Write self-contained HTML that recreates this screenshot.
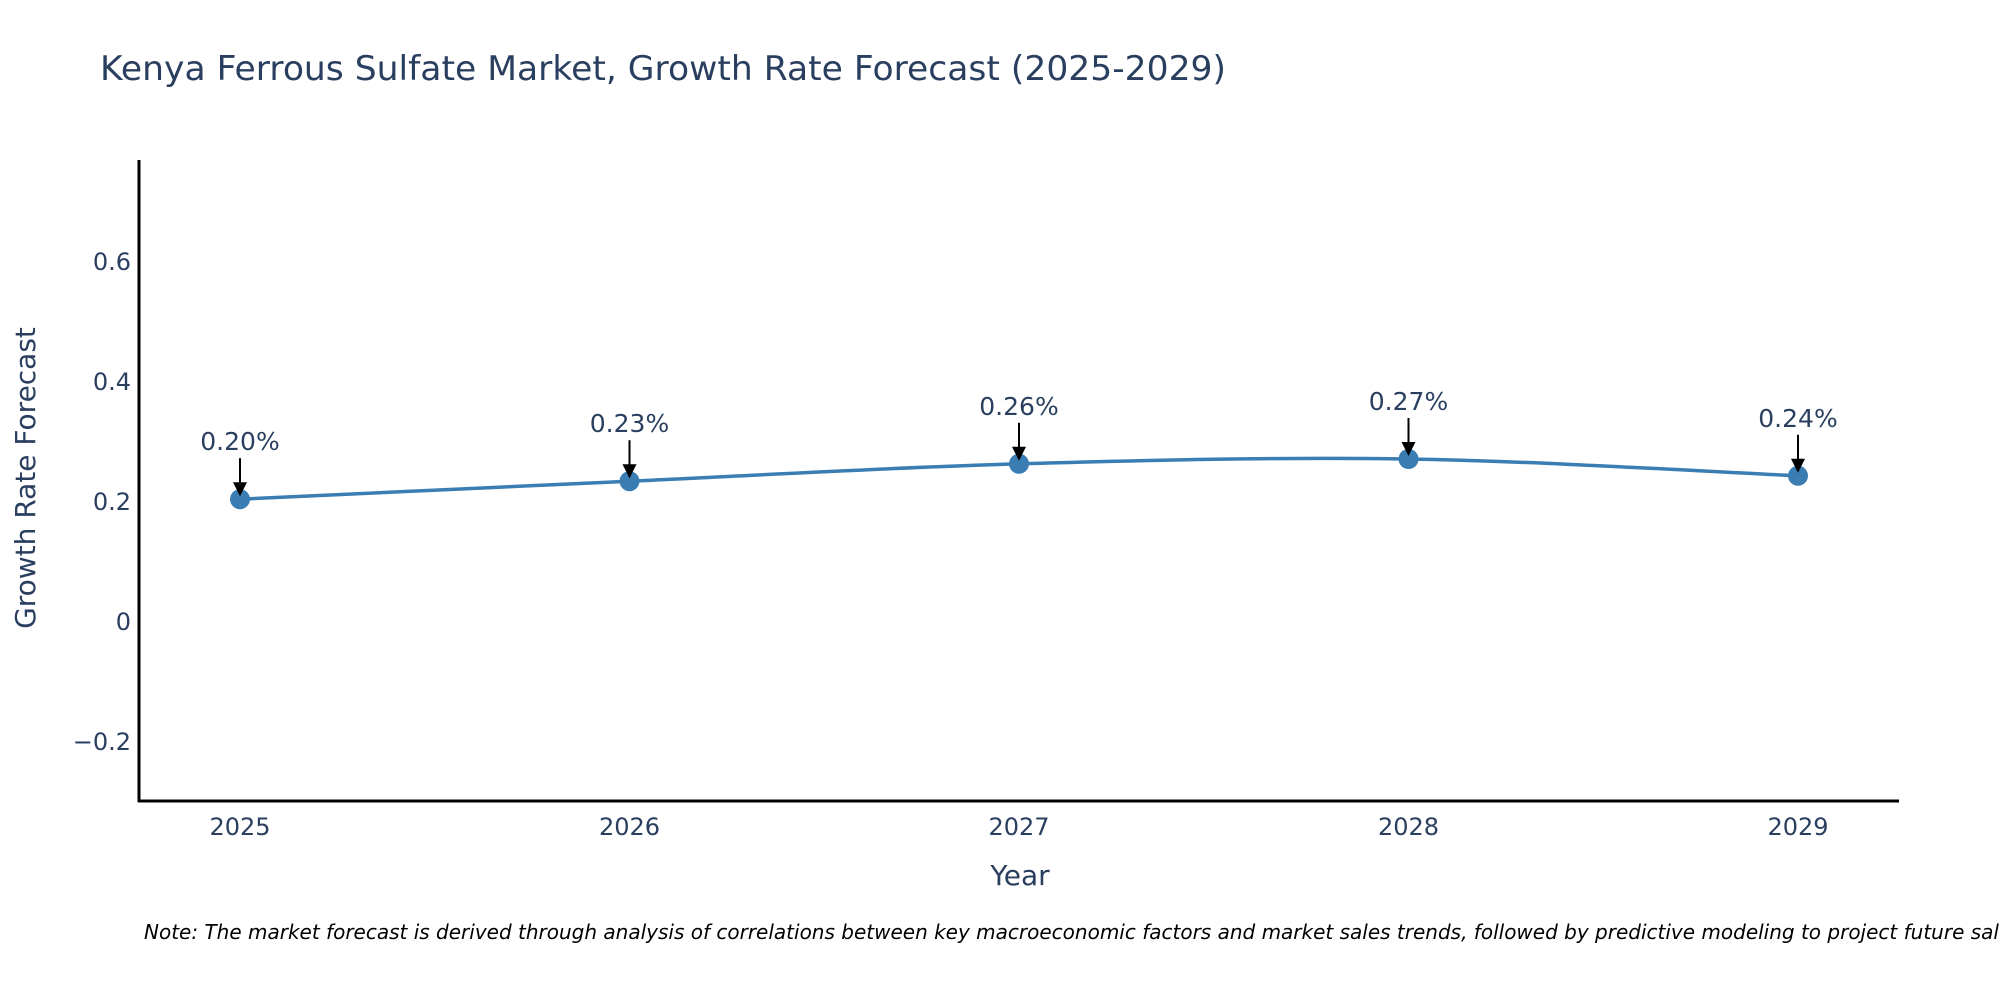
<!DOCTYPE html>
<html><head><meta charset="utf-8"><style>
body{margin:0;background:#fff;width:2000px;height:1000px;overflow:hidden}
text{font-family:"DejaVu Sans","Liberation Sans",sans-serif;fill:#2a3f5f}
</style></head><body>
<svg id="chart" width="2000" height="1000" xmlns="http://www.w3.org/2000/svg">
<text x="100" y="80" font-size="34" textLength="1126" lengthAdjust="spacingAndGlyphs">Kenya Ferrous Sulfate Market, Growth Rate Forecast (2025-2029)</text>
<g id="yticks"></g><g id="xticks"></g>
<line x1="139" y1="160" x2="139" y2="802" stroke="#000" stroke-width="3"/>
<line x1="138" y1="801" x2="1899" y2="801" stroke="#000" stroke-width="3"/>
<path id="line" fill="none" stroke="#3a7db3" stroke-width="3.5"/>
<g id="marks"></g>
<text x="1020" y="885" font-size="28" text-anchor="middle">Year</text>
<text transform="translate(35,478) rotate(-90)" font-size="28" text-anchor="middle">Growth Rate Forecast</text>
<text x="144" y="939" font-size="20" font-style="italic" style="fill:#000">Note: The market forecast is derived through analysis of correlations between key macroeconomic factors and market sales trends, followed by predictive modeling to project future sales.</text>
</svg>
<script>
const years = [2025, 2026, 2027, 2028, 2029];
const values = [0.203, 0.233, 0.262, 0.270, 0.242];
const labels = ["0.20%", "0.23%", "0.26%", "0.27%", "0.24%"];
const yTicks = [-0.2, 0, 0.2, 0.4, 0.6];
const yTickLabels = ["\u22120.2", "0", "0.2", "0.4", "0.6"];
const NS = "http://www.w3.org/2000/svg";
const xs = y => 240 + (y - 2025) * 389.5;
const ys = v => 621 - v * 600;
function mk(tag, attrs, parent, txt){const e=document.createElementNS(NS,tag);for(const k in attrs)e.setAttribute(k,attrs[k]);if(txt!==undefined)e.textContent=txt;parent.appendChild(e);return e;}
const yt=document.getElementById('yticks');
yTicks.forEach((t,i)=>{
  const e=mk('text',{x:131,y:ys(t)+9,'font-size':24,'text-anchor':'end'},yt,yTickLabels[i]);
  
  
});
const xt=document.getElementById('xticks');
years.forEach(y=>{
  const e=mk('text',{x:xs(y),y:835,'font-size':24,'text-anchor':'middle'},xt,String(y));
  
  
});
const pts=years.map((y,i)=>[xs(y),ys(values[i])]);
let d=`M${pts[0][0]},${pts[0][1]}`;
for(let i=0;i<pts.length-1;i++){
  const p0=pts[Math.max(0,i-1)],p1=pts[i],p2=pts[i+1],p3=pts[Math.min(pts.length-1,i+2)];
  const t=0.5/3;
  d+=` C${p1[0]+(p2[0]-p0[0])*t},${p1[1]+(p2[1]-p0[1])*t} ${p2[0]-(p3[0]-p1[0])*t},${p2[1]-(p3[1]-p1[1])*t} ${p2[0]},${p2[1]}`;
}
document.getElementById('line').setAttribute('d',d);
const mg=document.getElementById('marks');
pts.forEach((p,i)=>{
  const c=mk('circle',{cx:p[0],cy:p[1],r:10,fill:'#3a7db3'},mg);
  
  
  const a=mk('line',{x1:p[0],y1:p[1]-41,x2:p[0],y2:p[1]-14,stroke:'#000','stroke-width':2},mg);
  
  
  const h=mk('polygon',{points:`${p[0]-7},${p[1]-17} ${p[0]+7},${p[1]-17} ${p[0]},${p[1]-3}`,fill:'#000'},mg);
  
  
  const l=mk('text',{x:p[0],y:p[1]-49,'font-size':25,'text-anchor':'middle'},mg,labels[i]);
  
  
});
</script>
</body></html>
